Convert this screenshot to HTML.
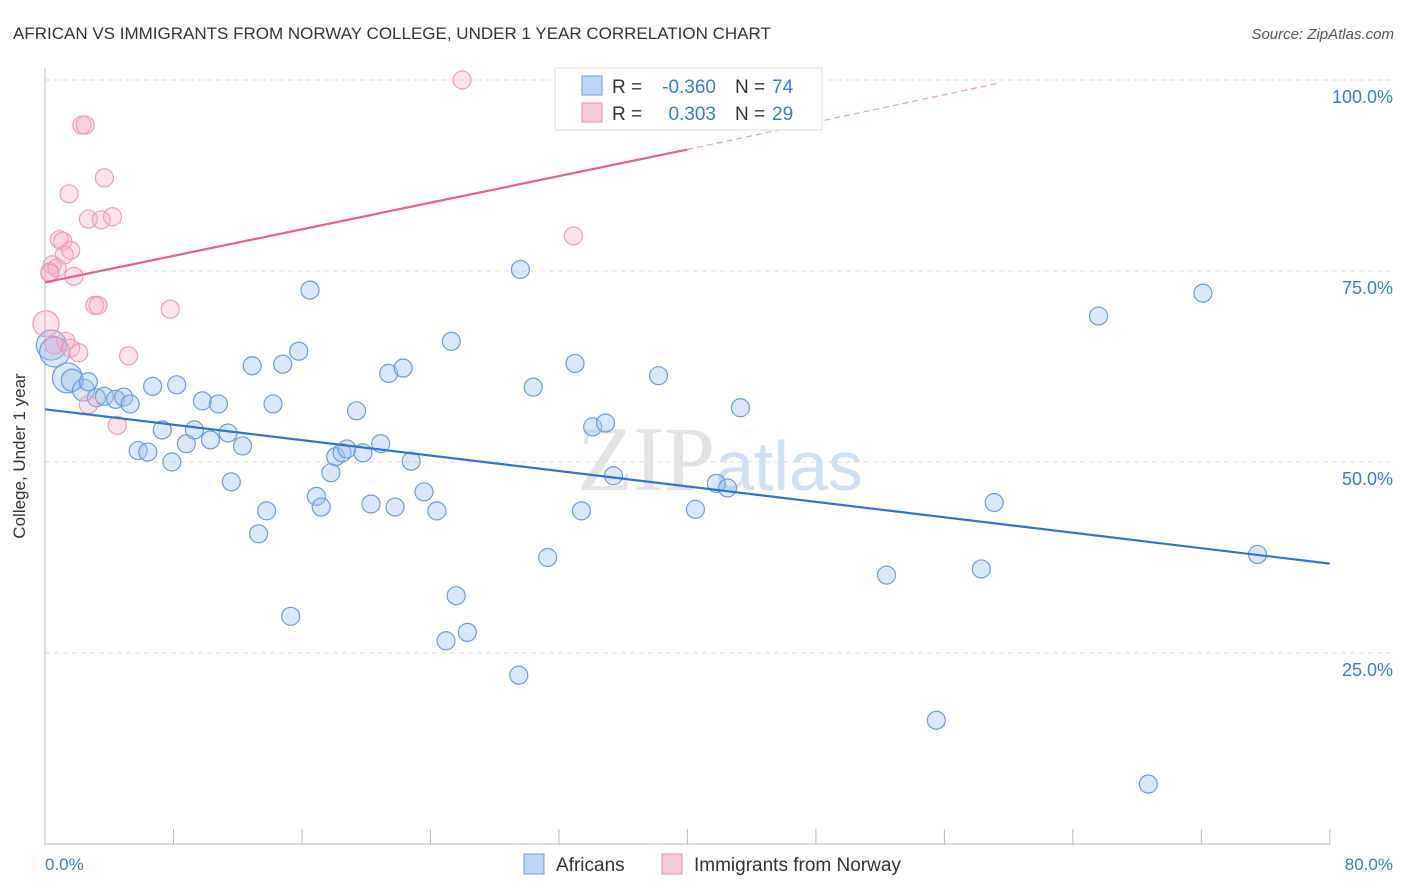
<!DOCTYPE html>
<html><head><meta charset="utf-8"><style>
body{margin:0;background:#fff;font-family:"Liberation Sans",sans-serif;}
svg{display:block}
</style></head><body>
<svg width="1406" height="892">
<text x="13" y="39" font-size="17" fill="#333">AFRICAN VS IMMIGRANTS FROM NORWAY COLLEGE, UNDER 1 YEAR CORRELATION CHART</text>
<text x="1394" y="39" font-size="15" fill="#555" font-style="italic" text-anchor="end">Source: ZipAtlas.com</text>
<text x="720" y="490" font-size="92" fill="#e3e3e3" text-anchor="middle" font-family="Liberation Serif">ZIP<tspan fill="#cfe0f5" font-family="Liberation Sans" font-size="70">atlas</tspan></text>
<g id="grid"></g>
<line x1="45" y1="68" x2="45" y2="845" stroke="#bbb"/>
<line x1="45" y1="844" x2="1330" y2="844" stroke="#bbb"/>
<g id="ticks"></g>
<text x="25" y="456" font-size="17" fill="#333" text-anchor="middle" transform="rotate(-90 25 456)">College, Under 1 year</text>
<text x="45" y="870" font-size="17" fill="#3b78d8">0.0%</text>
<text x="1393" y="870" font-size="17" fill="#3b78d8" text-anchor="end">80.0%</text>
<g id="pts"></g>
<g id="lines"></g>
<g>
<rect x="555" y="68" width="267" height="62" fill="#fff" stroke="#ddd"/>
<rect x="582" y="76" width="20" height="19" fill="#bcd4f5" stroke="#6a9be0"/>
<rect x="582" y="103" width="20" height="19" fill="#f9cbd9" stroke="#ea8fae"/>
<text x="612" y="93" font-size="19" fill="#333">R =</text>
<text x="716" y="93" font-size="19" fill="#3b78d8" text-anchor="end">-0.360</text>
<text x="735" y="93" font-size="19" fill="#333">N =</text>
<text x="772" y="93" font-size="19" fill="#3b78d8">74</text>
<text x="612" y="120" font-size="19" fill="#333">R =</text>
<text x="716" y="120" font-size="19" fill="#3b78d8" text-anchor="end">0.303</text>
<text x="735" y="120" font-size="19" fill="#333">N =</text>
<text x="772" y="120" font-size="19" fill="#3b78d8">29</text>
</g>
<g>
<rect x="524" y="854" width="20" height="20" fill="#bcd4f5" stroke="#6a9be0"/>
<text x="556" y="871" font-size="19" fill="#333">Africans</text>
<rect x="662" y="854" width="20" height="20" fill="#f9cbd9" stroke="#ea8fae"/>
<text x="694" y="871" font-size="19" fill="#333">Immigrants from Norway</text>
</g>
</svg>
<script>
const yTicks=[25,50,75,100];
const xTicks=[8,16,24,32,40,48,56,64,72,80];
const blueX=[0.4,0.6,1.4,1.7,2.4,2.7,3.2,3.7,4.4,4.9,5.3,5.8,6.4,6.7,7.3,7.9,8.2,8.8,9.3,9.8,10.3,10.8,11.4,11.6,12.3,12.9,13.3,13.8,14.2,14.8,15.3,15.8,16.5,16.9,17.2,17.8,18.1,18.5,18.8,19.4,19.8,20.3,20.9,21.4,21.8,22.3,22.8,23.6,24.4,24.97,25.3,25.6,26.3,29.5,29.6,30.4,31.3,33.0,33.4,34.1,34.9,35.4,38.2,40.5,41.8,42.5,43.3,52.4,55.5,58.3,59.1,65.6,68.7,72.1,75.5];
const blueY=[65.3,64.4,61.0,60.7,59.4,60.5,58.4,58.6,58.2,58.5,57.6,51.5,51.3,59.9,54.2,50.0,60.1,52.4,54.2,58.0,52.9,57.6,53.8,47.4,52.1,62.6,40.6,43.6,57.6,62.8,29.8,64.5,72.5,45.5,44.1,48.6,50.7,51.2,51.7,56.7,51.2,44.5,52.4,61.6,44.1,62.3,50.1,46.1,43.6,26.6,65.8,32.5,27.7,22.1,75.2,59.8,37.5,62.9,43.6,54.6,55.1,48.2,61.3,43.8,47.2,46.6,57.1,35.2,16.2,36.0,44.7,69.1,7.85,72.1,37.9];
const pinkX=[25.97,2.3,2.5,3.7,1.5,2.7,3.5,4.2,0.9,1.1,1.6,1.2,0.45,0.3,0.75,1.8,3.1,3.3,7.8,32.9,0.06,0.56,1.3,1.6,2.1,5.2,2.7,4.5,0.3];
const pinkY=[100,94.1,94.1,87.2,85.1,81.8,81.7,82.1,79.1,78.9,77.7,77.1,75.8,74.9,75.4,74.3,70.5,70.5,70.0,79.6,68.1,65.3,65.8,64.9,64.3,63.9,57.5,54.8,74.7];
const blueReg=[[0,56.9],[80,36.7]];
const pinkReg=[[0,73.5],[40,90.9]];
const pinkRegExt=[[40,90.9],[59.4,99.6]];
const X=v=>45+v*16.06, Y=v=>844-v*7.64;
const NS='http://www.w3.org/2000/svg';
function mk(t,a,p){const e=document.createElementNS(NS,t);for(const k in a)e.setAttribute(k,a[k]);p.appendChild(e);return e;}
const grid=document.getElementById('grid'),ticks=document.getElementById('ticks');
yTicks.forEach(v=>{
 const l=mk('line',{x1:45,x2:1393,y1:Y(v),y2:Y(v),stroke:'#ddd','stroke-dasharray':'5,4'},grid);
 
 
 const t=mk('text',{x:1393,y:Y(v)+23,'font-size':18,fill:'#3b78d8','text-anchor':'end'},grid);
 t.textContent=v.toFixed(1)+'%';
 
 
});
xTicks.forEach(v=>{
 const l=mk('line',{x1:X(v),x2:X(v),y1:829,y2:844,stroke:'#bbb'},ticks);
 
 
});
const pts=document.getElementById('pts');
blueX.forEach((x,i)=>{
 const r=i<3?15:(i<5?11:9);
 const c=mk('circle',{cx:X(x),cy:Y(blueY[i]),r:r,fill:'rgba(160,196,240,0.4)',stroke:'#6a9be0','stroke-width':1.2},pts);
 
 
});
pinkX.forEach((x,i)=>{
 const r=i==20?13:9;
 const c=mk('circle',{cx:X(x),cy:Y(pinkY[i]),r:r,fill:'rgba(245,175,198,0.35)',stroke:'#ee9bb7','stroke-width':1.2},pts);
 
 
});
const lines=document.getElementById('lines');
const b=mk('line',{x1:X(blueReg[0][0]),y1:Y(blueReg[0][1]),x2:X(blueReg[1][0]),y2:Y(blueReg[1][1]),stroke:'#2f74d6','stroke-width':2.2},lines);


const p=mk('line',{x1:X(pinkReg[0][0]),y1:Y(pinkReg[0][1]),x2:X(pinkReg[1][0]),y2:Y(pinkReg[1][1]),stroke:'#e8608a','stroke-width':2.2},lines);


const pd=mk('line',{x1:X(pinkRegExt[0][0]),y1:Y(pinkRegExt[0][1]),x2:X(pinkRegExt[1][0]),y2:Y(pinkRegExt[1][1]),stroke:'#eaa0b8','stroke-width':1.2,'stroke-dasharray':'6,4'},lines);


</script>
</body></html>
